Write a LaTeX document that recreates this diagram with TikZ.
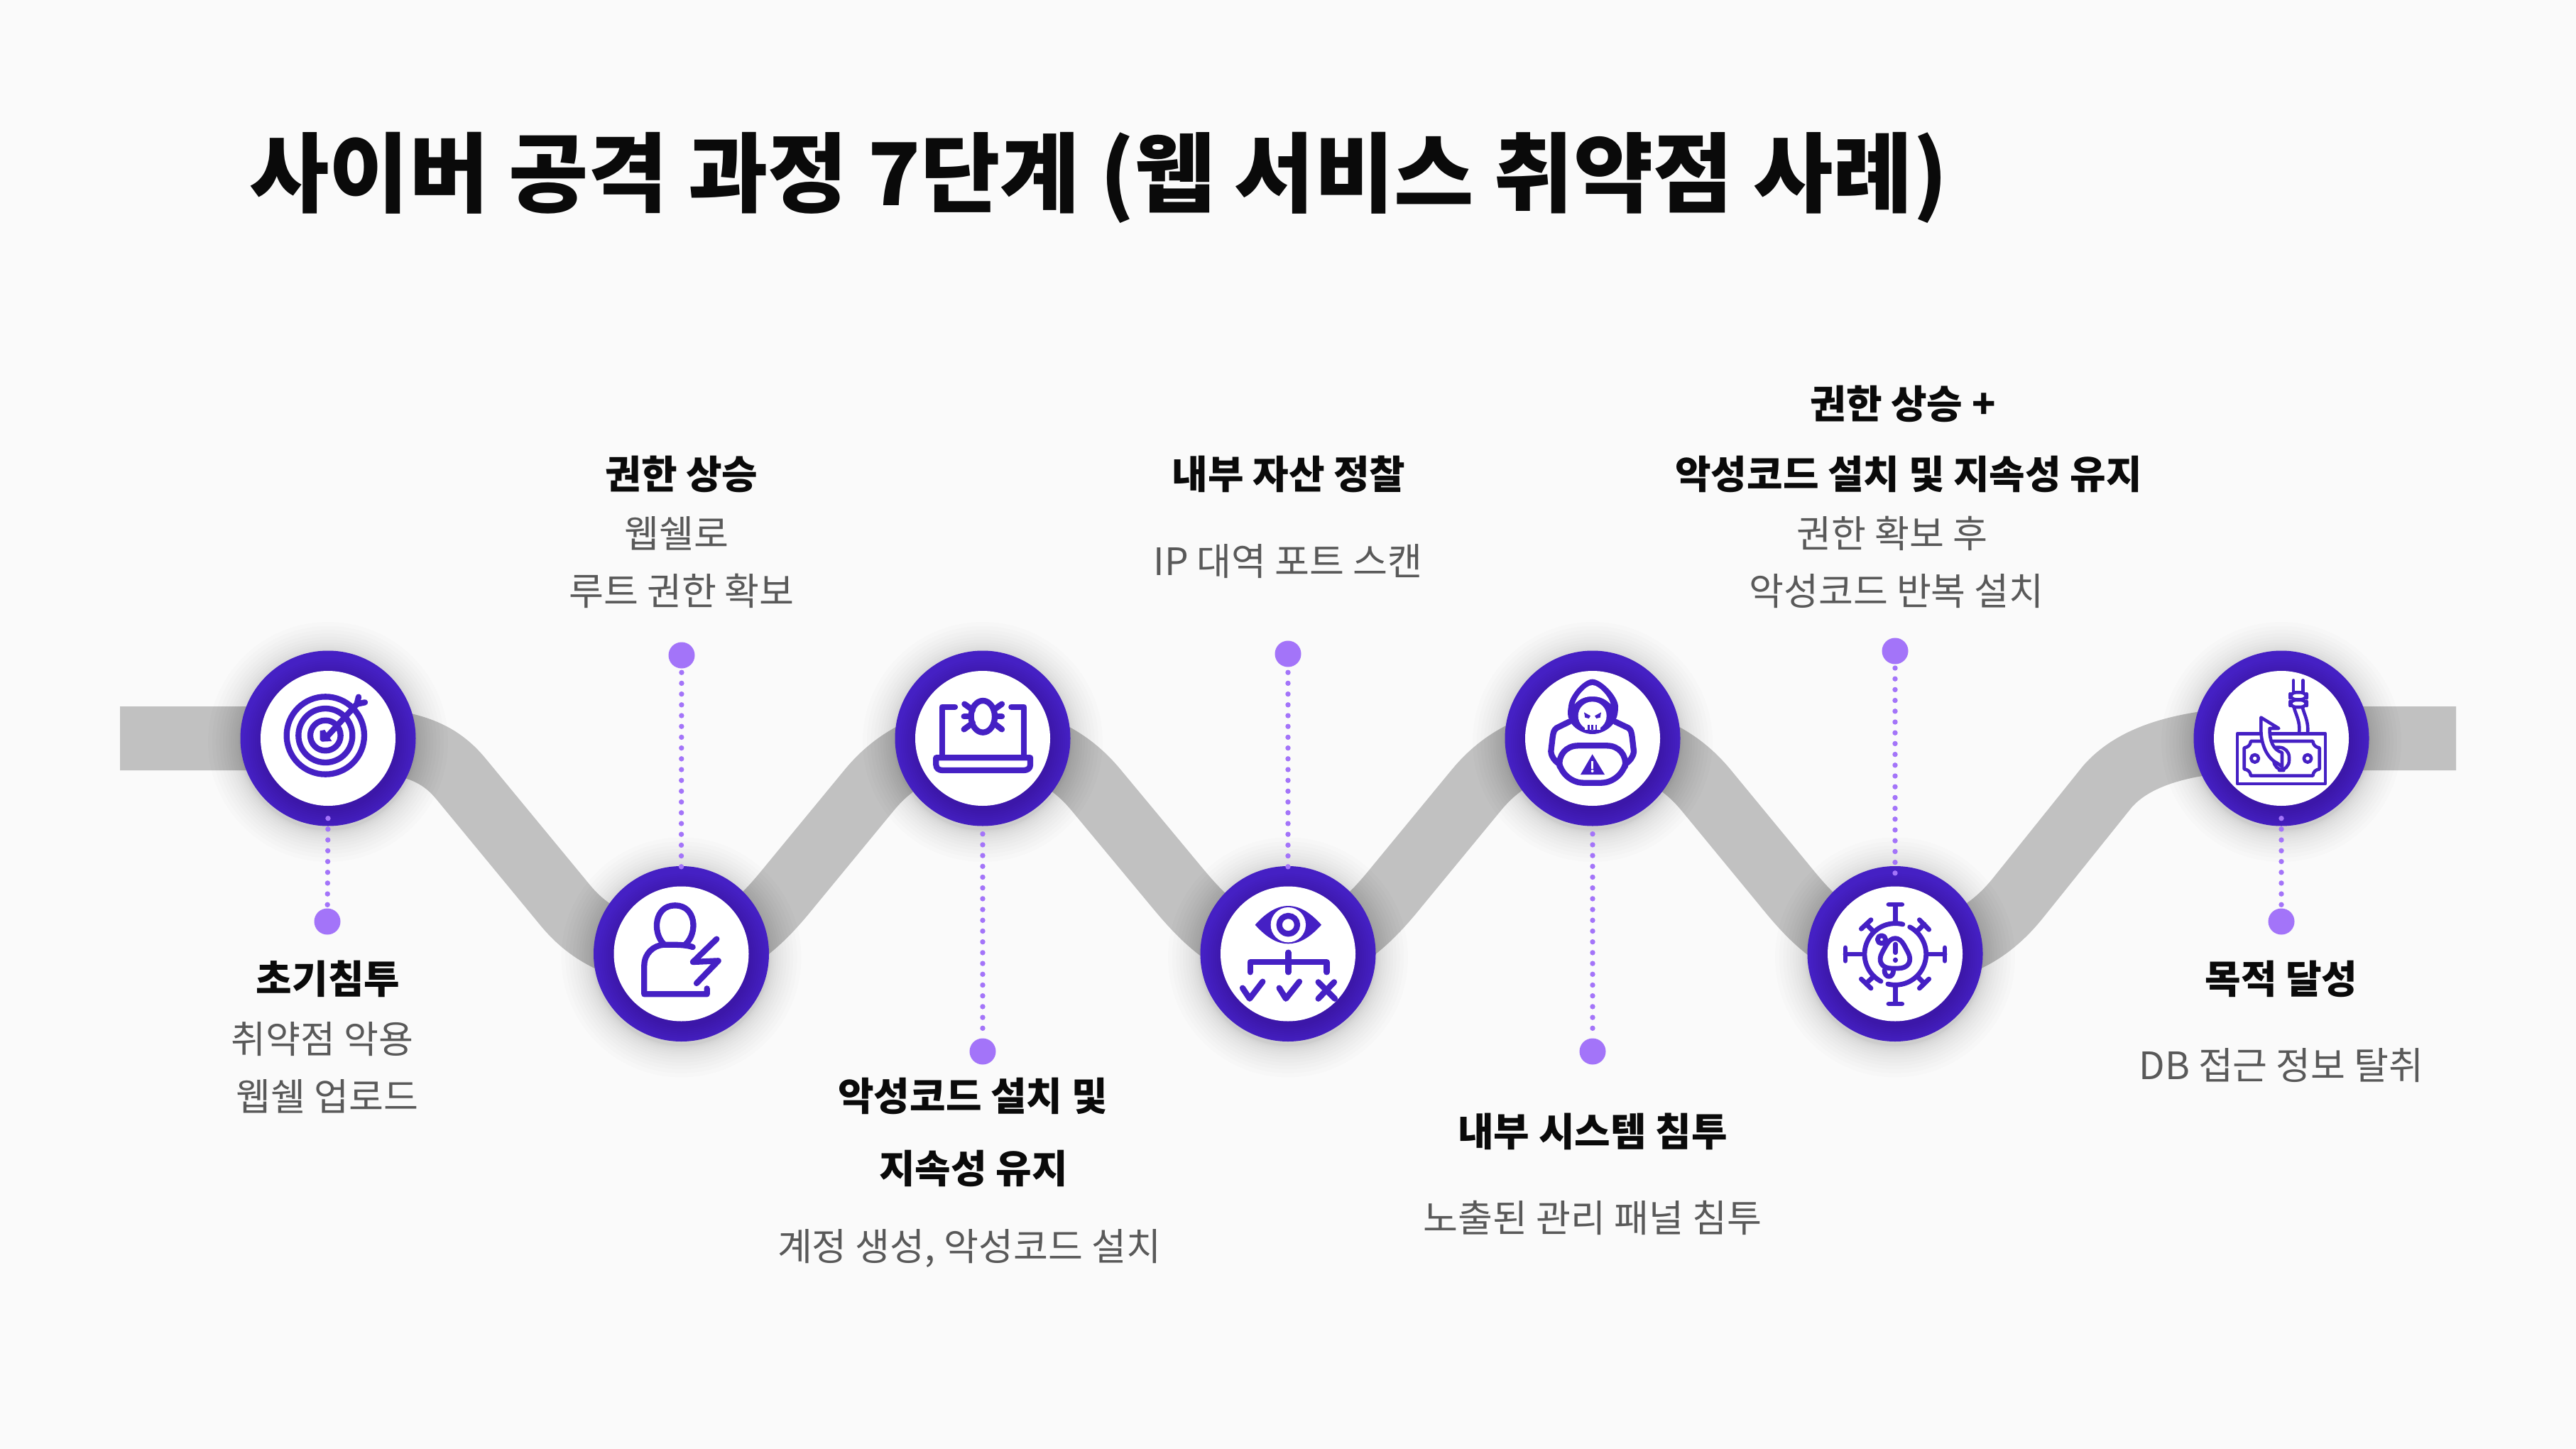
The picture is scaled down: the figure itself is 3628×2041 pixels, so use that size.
\documentclass[tikz,border=0pt]{standalone}
\usepackage{fontspec}
\setmainfont{Noto Sans CJK KR}
\definecolor{bgc}{HTML}{FAFAFA}
\definecolor{ringc}{HTML}{4520C4}
\definecolor{bandc}{HTML}{C1C1C1}
\definecolor{dotc}{HTML}{A374F9}
\definecolor{descc}{HTML}{595959}
\definecolor{headc}{HTML}{0A0A0A}
\tikzset{
  ringdisc/.style={circle,fill=ringc,minimum size=247pt,inner sep=0pt},
  whitedisc/.style={circle,fill=white,minimum size=190pt,inner sep=0pt},
  bigdot/.style={circle,fill=dotc,minimum size=37pt,inner sep=0pt},
  dotline/.style={draw=dotc,line width=7.4pt,line cap=round,dash pattern=on 0pt off 15.2pt},
  band/.style={draw=bandc,line width=90pt},
  lbl/.style={anchor=base,inner sep=0pt,text=headc,font=\fontsize{55}{66}\selectfont\bfseries},
  dsc/.style={anchor=base,inner sep=0pt,text=descc,font=\fontsize{53.2}{64}\selectfont},
  ttl/.style={anchor=base west,inner sep=0pt,text=headc,font=\fontsize{122.2}{140}\selectfont\bfseries},
  iconorigin/.style 2 args={shift={(#1,#2)},x=0.33333pt,y=-0.33333pt},
  iconline/.style={draw=ringc,line width=8.3pt,line cap=round,line join=round},
  iconthin/.style={draw=ringc,line width=4.6pt,line cap=round,line join=round},
}
\newcommand{\stepdisc}[3]{%
  \foreach \k in {1,...,15}{\fill[black,opacity=.01] (#2,#3+5) circle[radius={124+0.2*\k*\k}];}
  \node[ringdisc] (c#1) at (#2,#3) {};
  \begin{scope}
    \clip (#2,#3) circle[radius=123.5];
    \foreach \rr in {96,99,...,120}{\fill[black,opacity=.012] (#2+2,#3+7) circle[radius=\rr];}
  \end{scope}
  \node[whitedisc] (w#1) at (#2,#3) {};
}
\begin{document}
\begin{tikzpicture}[x=1pt,y=-1pt]
\fill[bgc] (0,0) rectangle (3628,2041);
\useasboundingbox (0,0) rectangle (3628,2041);
% ribbon
\coordinate (b0) at (169,1040);
\coordinate (b1) at (462,1040);
\coordinate (b2) at (959.5,1343.5);
\coordinate (b3) at (1384,1040);
\coordinate (b4) at (1814,1343.5);
\coordinate (b5) at (2243,1040);
\coordinate (b6) at (2669,1343.5);
\coordinate (b7) at (3213,1040);
\coordinate (b8) at (3459,1040);
\draw[band] (b0) -- (b1)
  .. controls (570,1040) and (615,1055) .. (650,1098) -- (796,1275)
  .. controls (825,1310) and (870,1343.5) .. (b2)
  .. controls (1030,1343.5) and (1075,1295) .. (1113,1248) -- (1225,1112)
  .. controls (1260,1070) and (1310,1040) .. (b3)
  .. controls (1458,1040) and (1508,1070) .. (1543,1112) -- (1656,1248)
  .. controls (1695,1295) and (1740,1343.5) .. (b4)
  .. controls (1884,1343.5) and (1930,1295) .. (1968,1248) -- (2080,1112)
  .. controls (2115,1070) and (2165,1040) .. (b5)
  .. controls (2317,1040) and (2367,1070) .. (2402,1112) -- (2514,1248)
  .. controls (2552,1295) and (2597,1343.5) .. (b6)
  .. controls (2750,1343.5) and (2800,1317) .. (2842,1265) -- (2968,1108)
  .. controls (3010,1060) and (3090,1040) .. (b7) -- (b8);
% discs
\stepdisc{1}{462}{1040}
\stepdisc{2}{959.5}{1343.5}
\stepdisc{3}{1384}{1040}
\stepdisc{4}{1814}{1343.5}
\stepdisc{5}{2243}{1040}
\stepdisc{6}{2669}{1343.5}
\stepdisc{7}{3213}{1040}
% dots and connectors
\node[bigdot] (d1) at (461,1298) {};
\node[bigdot] (d2) at (960,923) {};
\node[bigdot] (d3) at (1384,1481) {};
\node[bigdot] (d4) at (1814,921) {};
\node[bigdot] (d5) at (2243,1481) {};
\node[bigdot] (d6) at (2669,917) {};
\node[bigdot] (d7) at (3213,1298) {};
\draw[dotline] ([yshift=11pt]c1.south) -- (d1);
\draw[dotline] ([yshift=-1pt]c2.north) -- (d2);
\draw[dotline] ([yshift=-11pt]c3.south) -- (d3);
\draw[dotline] ([yshift=-1pt]c4.north) -- (d4);
\draw[dotline] ([yshift=-11pt]c5.south) -- (d5);
\draw[dotline] ([yshift=-10pt]c6.north) -- (d6);
\draw[dotline] ([yshift=11pt]c7.south) -- (d7);
% icon 1: target
\begin{scope}[iconorigin={320}{900}]
  \draw[iconline] (415,408) circle[radius=164];
  \draw[iconline] (415,408) circle[radius=114];
  \draw[iconline] (415,408) circle[radius=64];
  \draw[iconline] (415,420) -- (548,275);
  \draw[iconline] (548,275) -- (555,245);
  \draw[iconline] (548,275) -- (582,268);
  \fill[ringc] (392,388) -- (412,384) -- (442,432) -- (400,434) -- (392,426) -- cycle;
\end{scope}
% icon 2: user and bolt
\begin{scope}[iconorigin={820}{1200}]
  \draw[iconline] (345,390) .. controls (295,340) and (305,226) .. (392,226) .. controls (480,226) and (490,340) .. (437,390);
  \draw[iconline] (467,402) .. controls (440,392) and (400,392) .. (345,392) .. controls (300,395) and (262,430) .. (262,480) -- (262,601) -- (527,601) -- (527,577);
  \draw[iconline] (568,368) -- (468,465) -- (575,460) -- (483,555);
\end{scope}
% icon 3: laptop and bug
\begin{scope}[iconorigin={1245}{900}]
  \draw[iconline] (300,287) -- (245,287) -- (245,500);
  \draw[iconline] (538,287) -- (592,287) -- (592,500);
  \draw[iconline] (220,502) -- (618,502) -- (618,532) .. controls (618,548) and (605,555) .. (590,555) -- (248,555) .. controls (233,555) and (220,548) .. (220,532) -- cycle;
  \draw[iconline] (418,328) ellipse[x radius=50,y radius=67];
  \draw[iconline] (340,275) -- (375,300) (498,275) -- (463,300);
  \draw[iconline] (338,328) -- (368,328) (498,328) -- (468,328);
  \draw[iconline] (338,382) -- (375,355) (498,382) -- (463,355);
\end{scope}
% icon 4: eye and tree
\begin{scope}[iconorigin={1675}{1200}]
  \fill[ringc] (278,308) .. controls (330,250) and (375,228) .. (418,228) .. controls (461,228) and (506,250) .. (558,308) .. controls (506,366) and (461,388) .. (418,388) .. controls (375,388) and (330,366) .. (278,308) -- cycle;
  \fill[white] (418,308) circle[radius=74];
  \draw[iconline] (418,308) circle[radius=38];
  \draw[iconline] (418,425) -- (418,508);
  \draw[iconline] (257,508) -- (257,465) -- (580,465) -- (580,508);
  \draw[iconline] (225,575) -- (255,620) -- (310,548);
  \draw[iconline] (380,575) -- (408,620) -- (465,548);
  \draw[iconline] (545,550) -- (615,620) (612,550) -- (545,620);
\end{scope}
% icon 5: hacker
\begin{scope}[iconorigin={2105}{900}]
  \fill[ringc] (413,170) .. controls (450,170) and (520,240) .. (522,285) .. controls (522,320) and (515,340) .. (500,360) .. controls (480,385) and (445,402) .. (413,402) .. controls (381,402) and (346,385) .. (326,360) .. controls (311,340) and (305,320) .. (312,285) .. controls (314,240) and (376,170) .. (413,170) -- cycle;
  \fill[white] (413,195) .. controls (440,195) and (485,245) .. (490,275) .. controls (465,250) and (440,243) .. (413,243) .. controls (386,243) and (361,250) .. (338,275) .. controls (345,245) and (386,195) .. (413,195) -- cycle;
  \fill[white] (413,325) circle[radius=60];
  \fill[white] (380,350) rectangle (448,384);
  \fill[ringc] (378,310) -- (405,325) -- (398,336) -- (382,332) -- cycle;
  \fill[ringc] (450,310) -- (423,325) -- (430,336) -- (446,332) -- cycle;
  \draw[ringc,line width=2.4pt] (397,362) -- (397,384) (413,362) -- (413,384) (429,362) -- (429,384);
  \draw[iconline] (315,350) -- (262,376) .. controls (250,385) and (248,395) .. (245,415) -- (238,475) .. controls (240,500) and (255,515) .. (268,525);
  \draw[iconline] (510,350) -- (565,376) .. controls (577,385) and (578,395) .. (581,415) -- (588,475) .. controls (586,500) and (570,515) .. (558,525);
  \draw[iconline,rounded corners=30pt] (262,451) -- (565,451) -- (540,608) -- (285,608) -- cycle;
  \fill[ringc] (413,487) -- (465,573) -- (363,573) -- cycle;
  \draw[white,line width=3.3pt] (413,515) -- (413,548);
  \fill[white] (413,558) circle[radius=6];
\end{scope}
% icon 6: virus and alert
\begin{scope}[iconorigin={2530}{1200}]
  \draw[iconline,line width=6.8pt] plot[domain=-62:104,samples=40] ({418+130*cos(\x)},{432+130*sin(\x)});
  \draw[iconline,line width=6.8pt] plot[domain=118:284,samples=40] ({418+130*cos(\x)},{432+130*sin(\x)});
  \draw[iconline,line width=6.8pt] (418,230) -- (418,295) (390,222) -- (446,222);
  \draw[iconline,line width=6.8pt] (418,570) -- (418,640) (390,642) -- (446,642);
  \draw[iconline,line width=6.8pt] (207,432) -- (275,432) (207,405) -- (207,460);
  \draw[iconline,line width=6.8pt] (560,432) -- (627,432) (627,405) -- (627,460);
  \draw[iconline,line width=6.8pt] (295,305) -- (328,338) (274,325) -- (315,287);
  \draw[iconline,line width=6.8pt] (540,305) -- (507,338) (520,287) -- (560,328);
  \draw[iconline,line width=6.8pt] (295,555) -- (328,525) (274,537) -- (315,576);
  \draw[iconline,line width=6.8pt] (540,555) -- (510,525) (520,576) -- (560,537);
  \draw[iconline,line width=6.8pt] (360,370) circle[radius=17];
  \draw[iconline,line width=6.8pt] (372,500) .. controls (372,535) and (410,535) .. (410,500);
  \draw[iconline,line width=6.8pt,fill=white,rounded corners=26pt] (418,325) -- (508,492) -- (325,492) -- cycle;
  \draw[iconline,line width=6.8pt] (418,390) -- (418,425);
  \draw[iconline,line width=6.8pt] (418,456) -- (418,458);
\end{scope}
% icon 7: money on a hook
\begin{scope}[iconorigin={3070}{900}]
  \draw[iconthin] (243,400) rectangle (615,612);
  \draw[iconthin] (300,432) -- (562,432) .. controls (564,450) and (575,458) .. (590,460) -- (590,550) .. controls (575,552) and (564,560) .. (562,578) -- (300,578) .. controls (298,560) and (287,552) .. (272,550) -- (272,460) .. controls (287,458) and (298,450) .. (300,432) -- cycle;
  \draw[iconthin] (317,505) circle[radius=16];
  \draw[iconthin] (540,505) circle[radius=16];
  \draw[iconthin] (480,175) -- (480,228) (520,175) -- (520,228);
  \draw[iconthin,rounded corners=8pt] (466,226) rectangle (536,256);
  \draw[iconthin,rounded corners=8pt] (466,258) rectangle (536,288);
  \draw[iconthin] (482,288) .. controls (490,320) and (510,350) .. (504,396);
  \draw[iconthin] (518,288) .. controls (526,320) and (545,350) .. (540,396);
  \draw[iconthin,rounded corners=14pt] (397,465) -- (397,555) -- (462,555) -- (462,458) -- (400,458);
  \draw[iconthin,fill=white] (343,332) -- (418,378) -- (380,378) .. controls (378,430) and (395,470) .. (432,480) -- (432,540) -- (412,525) .. controls (370,505) and (345,450) .. (343,390) -- cycle;
\end{scope}
% text
\node[ttl] (title) at (351,290) {사이버 공격 과정 7단계 (웹 서비스 취약점 사례)};
\node[lbl] (t1a) at (462,1399) {초기침투};
\node[dsc] (t1b) at (454,1483) {취약점 악용};
\node[dsc] (t1c) at (461,1564) {웹쉘 업로드};
\node[lbl] (t2a) at (960,688) {권한 상승};
\node[dsc] (t2b) at (953,771) {웹쉘로};
\node[dsc] (t2c) at (960,852) {루트 권한 확보};
\node[lbl] (t3a) at (1370,1564) {악성코드 설치 및};
\node[lbl] (t3b) at (1371,1666) {지속성 유지};
\node[dsc] (t3c) at (1365,1775) {계정 생성, 악성코드 설치};
\node[lbl] (t4a) at (1815,688) {내부 자산 정찰};
\node[dsc] (t4b) at (1814,810) {IP 대역 포트 스캔};
\node[lbl] (t5a) at (2243,1614) {내부 시스템 침투};
\node[dsc] (t5b) at (2243,1735) {노출된 관리 패널 침투};
\node[lbl] (t6a) at (2680,589) {권한 상승 +};
\node[lbl] (t6b) at (2688,688) {악성코드 설치 및 지속성 유지};
\node[dsc] (t6c) at (2665,771) {권한 확보 후};
\node[dsc] (t6d) at (2671,852) {악성코드 반복 설치};
\node[lbl] (t7a) at (3213,1399) {목적 달성};
\node[dsc] (t7b) at (3213,1520) {DB 접근 정보 탈취};
\end{tikzpicture}
\end{document}
